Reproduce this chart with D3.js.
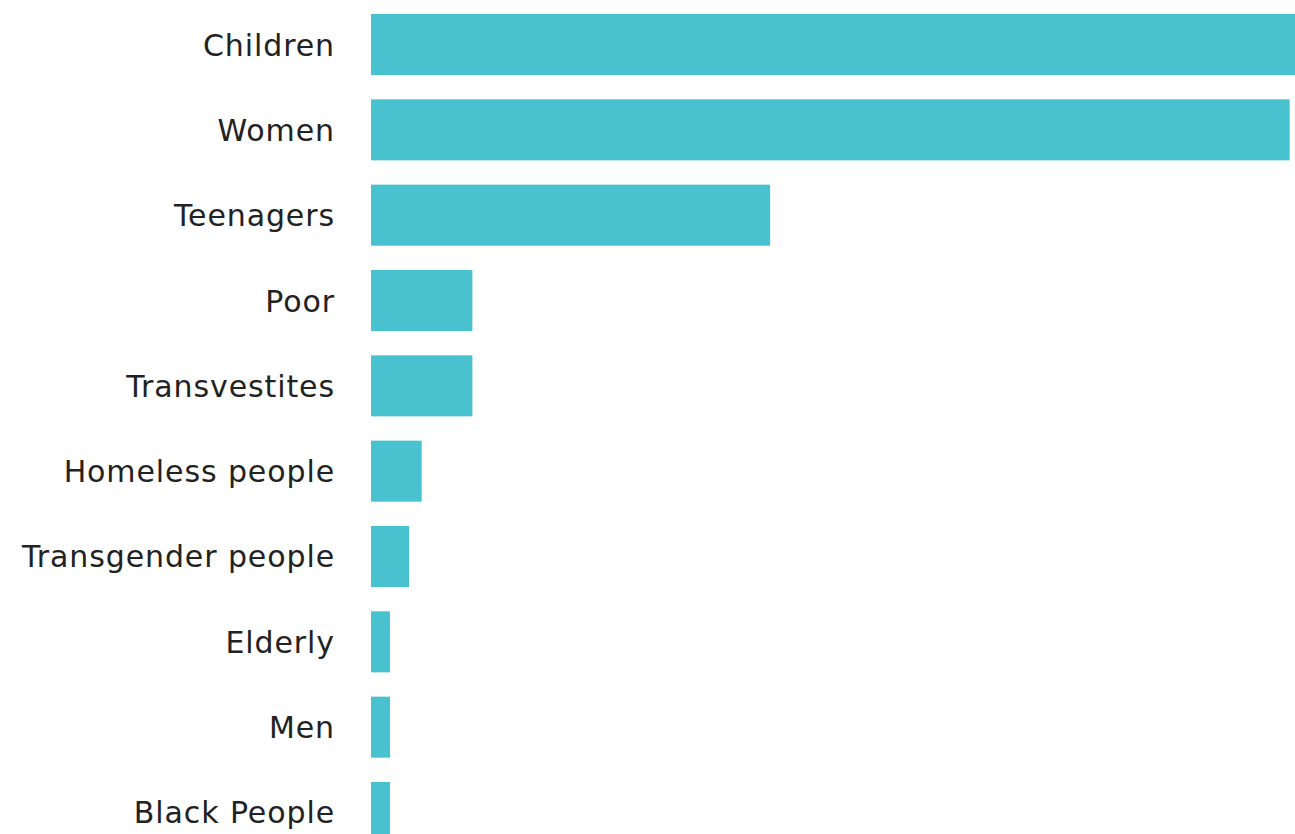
<!DOCTYPE html>
<html><head><meta charset="utf-8">
<script src="https://cdn.jsdelivr.net/npm/d3@7"></script>
<style>html,body{margin:0;padding:0;background:#fff;overflow:hidden}</style>
</head><body><svg id="c" width="1295" height="834"></svg>
<script>
const categories = ["Children","Women","Teenagers","Poor","Transvestites","Homeless people","Transgender people","Elderly","Men","Black People"];
const values = [73, 72.5, 31.5, 8, 8, 4, 3, 1.5, 1.5, 1.5];

const svg = d3.select("#c");
const x = d3.scaleLinear().domain([0, 73]).range([371, 1296]);
const y = d3.scaleBand().domain(categories).range([14, 843]).paddingInner(0.285).paddingOuter(0);

svg.selectAll("rect").data(categories).join("rect")
  .attr("x", x(0)).attr("y", d => y(d))
  .attr("width", (d,i) => x(values[i]) - x(0))
  .attr("height", y.bandwidth())
  .attr("fill", "#48C2CE");

svg.selectAll("text.lab").data(categories).join("text")
  .attr("class","lab")
  .attr("x", 335).attr("y", d => y(d) + y.bandwidth()/2 + 11)
  .attr("text-anchor","end")
  .attr("font-family","'DejaVu Sans', sans-serif").attr("font-size", 30)
  .attr("letter-spacing", 0.9)
  .attr("fill","#222")
  .text(d => d);
</script></body></html>
